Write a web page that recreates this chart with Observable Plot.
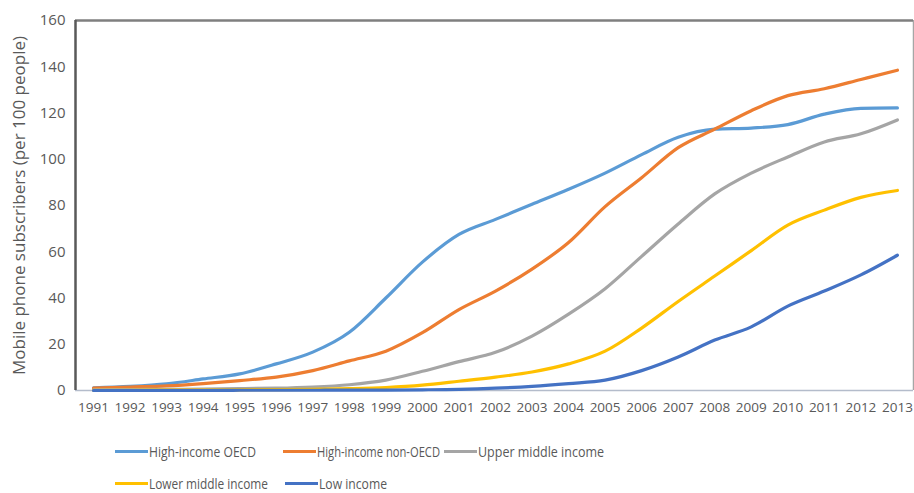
<!DOCTYPE html>
<html>
<head>
<meta charset="utf-8">
<script src="https://cdn.jsdelivr.net/npm/d3@7"></script>
<script src="https://cdn.jsdelivr.net/npm/@observablehq/plot@0.6"></script>
<style>
  html, body { margin: 0; padding: 0; background: #fff; }
  #wrap { position: relative; width: 914px; height: 493px; font-family: "Open Sans", sans-serif; }
  .legend { position: absolute; left: 0; top: 0; width: 914px; height: 493px; pointer-events: none; }
  .item { position: absolute; display: flex; align-items: center; font-family: "Open Sans", sans-serif; font-size: 14.5px; color: #595959; white-space: nowrap; }
  .sw { width: 33px; height: 3px; margin-right: 1px; flex: none; }
  .tx { display: inline-block; transform-origin: 0 50%; }
</style>
</head>
<body>
<div id="wrap"></div>
<script>
const years = [1991,1992,1993,1994,1995,1996,1997,1998,1999,2000,2001,2002,2003,2004,2005,2006,2007,2008,2009,2010,2011,2012,2013];
const seriesNames = ["High-income OECD", "High-income non-OECD", "Upper middle income", "Lower middle income", "Low income"];
const seriesColors = ["#5B9BD5", "#ED7D31", "#A5A5A5", "#FFC000", "#4472C4"];
const highIncomeOECD = [1.2, 1.8, 2.9, 5, 7.2, 11.5, 16.6, 25.2, 40, 55.5, 67.5, 74, 80.5, 87, 94, 102, 109.5, 113, 113.5, 115, 119.5, 122, 122.2];
const highIncomeNonOECD = [1, 1.5, 2, 3, 4.3, 5.8, 8.6, 12.8, 17, 25, 35, 43, 52.5, 64, 79.5, 92, 105, 113, 121, 127.5, 130.5, 134.5, 138.5];
const upperMiddle = [0.3, 0.4, 0.5, 0.6, 0.8, 1, 1.5, 2.5, 4.5, 8.3, 12.5, 16.5, 23.5, 33, 44, 58, 72, 85, 94, 101, 107.5, 111, 117];
const lowerMiddle = [0.1, 0.1, 0.2, 0.2, 0.3, 0.4, 0.5, 0.8, 1.3, 2.3, 4, 5.8, 8, 11.5, 17, 27, 38.5, 49.5, 60.5, 71.5, 78, 83.5, 86.5];
const lowIncome = [0, 0, 0, 0, 0.1, 0.1, 0.1, 0.2, 0.2, 0.3, 0.5, 1, 1.8, 3, 4.5, 8.6, 14.5, 21.8, 27.5, 36.5, 43, 50, 58.5];
const yTicks = [0, 20, 40, 60, 80, 100, 120, 140, 160];
const yLabel = "Mobile phone subscribers (per 100 people)";

const allSeries = [highIncomeOECD, highIncomeNonOECD, upperMiddle, lowerMiddle, lowIncome];
const data = [];
allSeries.forEach((vals, i) => vals.forEach((v, j) => data.push({year: years[j], value: v, series: seriesNames[i]})));

const xDomain = [1990.507, 2013.44];

const chart = Plot.plot({
  width: 914,
  height: 425,
  marginLeft: 75,
  marginRight: 1,
  marginTop: 20,
  marginBottom: 35,
  style: { fontFamily: "Open Sans, sans-serif", fontSize: "13.5px", color: "#595959", background: "#fff" },
  x: { type: "linear", domain: xDomain, label: null },
  y: { domain: [0, 160], label: null },
  color: { domain: seriesNames, range: seriesColors },
  marks: [
    Plot.axisX(years, { tickSize: 0, tickPadding: 12, tickFormat: d => String(d), fontSize: 13.5, fill: "#595959", label: null }),
    Plot.axisY(yTicks, { tickSize: 0, tickPadding: 10, fontSize: 15, fill: "#595959", label: null }),
    Plot.text([yLabel], { frameAnchor: "left", textAnchor: "middle", rotate: -90, dx: -56, fontSize: 17, fill: "#595959" }),
    Plot.ruleY([0], { stroke: "#b4bccb", strokeWidth: 1.5 }),
    Plot.ruleX([xDomain[1]], { stroke: "#a6a6a6", strokeWidth: 1.5 }),
    Plot.ruleY([160], { stroke: "#7f7f7f", strokeWidth: 2.5 }),
    Plot.ruleX([xDomain[0]], { stroke: "#595959", strokeWidth: 2.5 }),
    Plot.line(data, { x: "year", y: "value", z: "series", stroke: "series", strokeWidth: 3.2, curve: "monotone-x" })
  ]
});

const wrap = document.getElementById("wrap");
wrap.appendChild(chart);

const legend = document.createElement("div");
legend.className = "legend";
// left of swatch, vertical centre, target text width (layout only)
const pos = [[115, 453, 107], [283, 453, 123], [444, 453, 126], [115, 485, 119], [285, 485, 68]];
wrap.appendChild(legend);
seriesNames.forEach((name, i) => {
  const it = document.createElement("div");
  it.className = "item";
  it.style.left = pos[i][0] + "px";
  it.style.top = (pos[i][1] - 11) + "px";
  const sw = document.createElement("span");
  sw.className = "sw";
  sw.style.background = seriesColors[i];
  const tx = document.createElement("span");
  tx.className = "tx";
  tx.textContent = name;
  it.appendChild(sw); it.appendChild(tx);
  legend.appendChild(it);
  const w = tx.getBoundingClientRect().width;
  if (w > 0) tx.style.transform = "scaleX(" + Math.min(1, pos[i][2] / w) + ")";
});
</script>
</body>
</html>
